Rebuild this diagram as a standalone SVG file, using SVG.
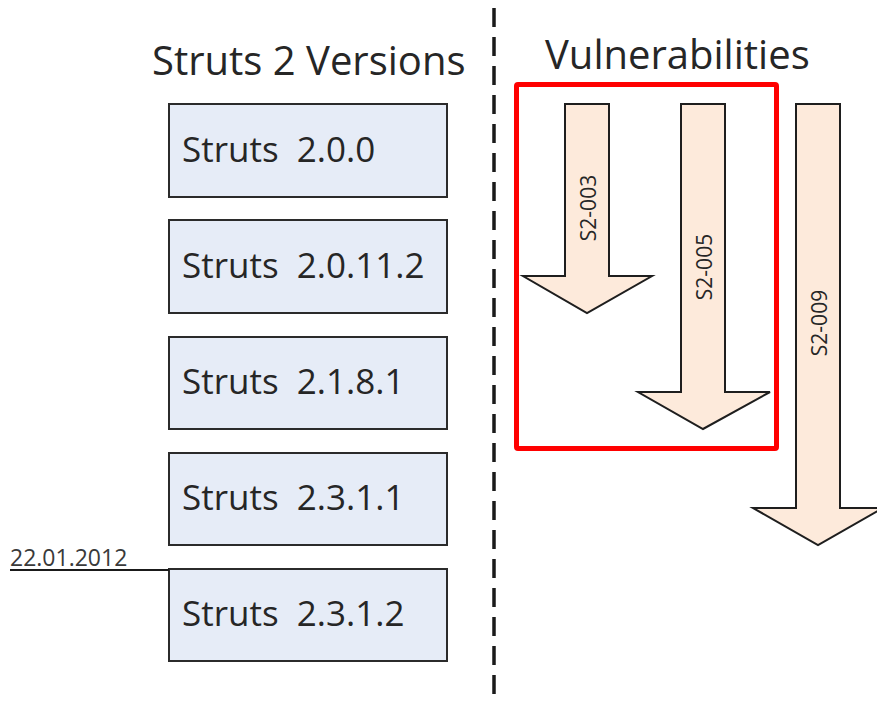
<svg xmlns="http://www.w3.org/2000/svg" width="877" height="704" viewBox="0 0 877 704">
<style>
text{font-family:"Open Sans","Liberation Sans",sans-serif;fill:#262626}
.title{font-size:40px}
.box rect{fill:#E6ECF7;stroke:#2b2b2b;stroke-width:2}
.box text{font-size:35px;white-space:pre}
.arrow polygon{fill:#FDEADB;stroke:#1e1e1e;stroke-width:2;stroke-linejoin:miter}
.arrow text{font-size:21px;text-anchor:middle}
</style>
<rect width="877" height="704" fill="#ffffff"/>
<text class="title" x="152" y="75">Struts 2 Versions</text>
<text class="title" x="545" y="69">Vulnerabilities</text>
<line x1="494" y1="8" x2="494" y2="704" stroke="#1a1a1a" stroke-width="3.5" stroke-dasharray="19 10"/>
<g id="v200" class="box"><rect x="169" y="104" width="278" height="93"/><text x="182" y="162" xml:space="preserve">Struts  2.0.0</text></g>
<g id="v20112" class="box"><rect x="169" y="220" width="278" height="93"/><text x="182" y="278" xml:space="preserve">Struts  2.0.11.2</text></g>
<g id="v2181" class="box"><rect x="169" y="337" width="278" height="92"/><text x="182" y="394" xml:space="preserve">Struts  2.1.8.1</text></g>
<g id="v2311" class="box"><rect x="169" y="453" width="278" height="92"/><text x="182" y="510" xml:space="preserve">Struts  2.3.1.1</text></g>
<g id="v2312" class="box"><rect x="169" y="569" width="278" height="92"/><text x="182" y="626" xml:space="preserve">Struts  2.3.1.2</text></g>
<g id="date">
<text x="10" y="566" style="font-size:23px;fill:#3a3a3a">22.01.2012</text>
</g>
<g id="connectors">
<line x1="10" y1="570" x2="169" y2="570" stroke="#1a1a1a" stroke-width="1.8"/>
</g>
<g id="s2-003" class="arrow">
<polygon points="565,104 609,104 609,276 652,276 587,313 523,276 565,276"/>
<text transform="translate(596,208) rotate(-90)">S2-003</text>
</g>
<g id="s2-005" class="arrow">
<polygon points="681,104 725,104 725,392 770,392 703,429 638,392 681,392"/>
<text transform="translate(712,267) rotate(-90)">S2-005</text>
</g>
<g id="s2-009" class="arrow">
<polygon points="796,104 840,104 840,508 883,508 818,545 753,508 796,508"/>
<text transform="translate(827,323) rotate(-90)">S2-009</text>
</g>
<rect id="highlight" x="516.5" y="84.5" width="260" height="364" rx="1.5" fill="none" stroke="#ff0000" stroke-width="5"/>
</svg>
